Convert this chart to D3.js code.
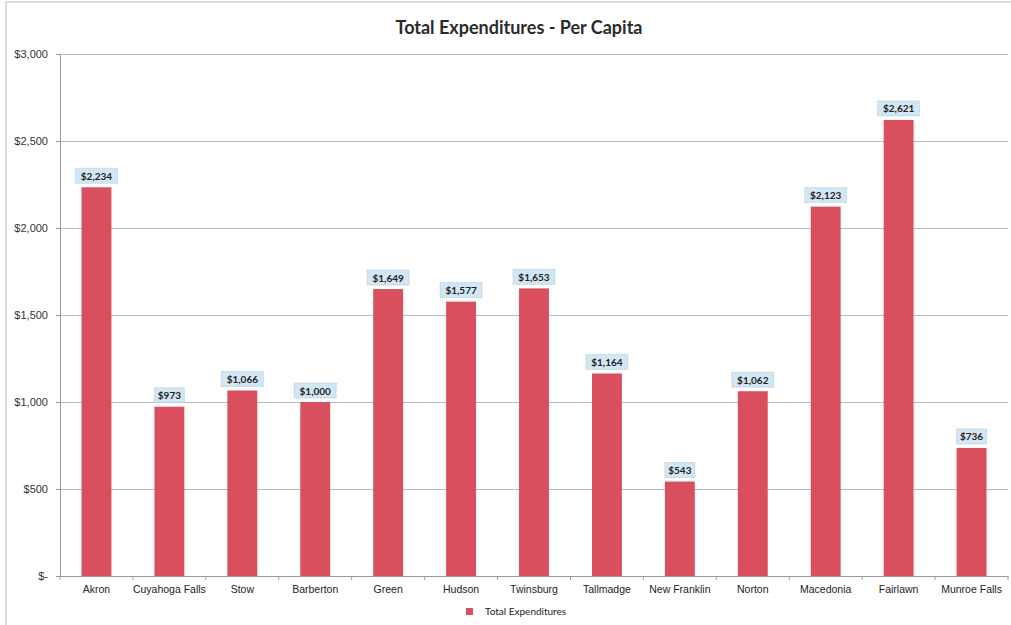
<!DOCTYPE html>
<html><head><meta charset="utf-8">
<script src="https://cdn.jsdelivr.net/npm/d3@7"></script>
<style>body{margin:0;background:#fff;} svg{display:block;font-family:Lato,"Open Sans",sans-serif;}</style>
</head><body>
<svg id="c" width="1011" height="625"></svg>
<script>
const categories = ["Akron","Cuyahoga Falls","Stow","Barberton","Green","Hudson","Twinsburg","Tallmadge","New Franklin","Norton","Macedonia","Fairlawn","Munroe Falls"];
const values = [2234,973,1066,1000,1649,1577,1653,1164,543,1062,2123,2621,736];
const yTicks = [0,500,1000,1500,2000,2500,3000];
const seriesName = "Total Expenditures";
const title = "Total Expenditures - Per Capita";

const svg = d3.select("#c");
const m = {l:60, r:1008, t:54, b:576};
const x = d3.scaleBand().domain(categories).range([m.l, m.r]).paddingInner(0.59).paddingOuter(0.295);
const y = d3.scaleLinear().domain([0,3000]).range([m.b, m.t]);
const fmt = v => v === 0 ? "$-" : "$" + d3.format(",")(v);

// outer frame
svg.append("rect").attr("x",6).attr("y",2).attr("width",1010).attr("height",640)
  .attr("fill","none").attr("stroke","#b8b8b8").attr("stroke-width",1);

// title
svg.append("text").attr("x",519).attr("y",34).attr("text-anchor","middle")
  .attr("font-size",18).attr("font-weight","bold").attr("fill","#2b2b2b").text(title);

// gridlines
svg.append("g").selectAll("line").data(yTicks.filter(d=>d>0)).join("line")
  .attr("x1",m.l).attr("x2",m.r).attr("y1",d=>y(d)+0.5).attr("y2",d=>y(d)+0.5)
  .attr("stroke","#a8a8a8").attr("stroke-width",0.8);

// y axis
const ya = svg.append("g").attr("transform",`translate(${m.l},0)`)
  .call(d3.axisLeft(y).tickValues(yTicks).tickFormat(fmt).tickSize(4).tickPadding(8));
ya.select(".domain").attr("stroke","#9a9a9a");
ya.selectAll(".tick line").attr("stroke","#9a9a9a");
ya.selectAll("text").attr("font-size",11).attr("fill","#333");

// x axis
const xa = svg.append("g").attr("transform",`translate(0,${m.b})`)
  .call(d3.axisBottom(x).tickSize(0).tickPadding(10));
xa.select(".domain").attr("stroke","#9a9a9a");
xa.selectAll("text").attr("font-size",10.5).attr("fill","#222");
// category boundary ticks
svg.append("g").selectAll("line").data(d3.range(categories.length+1)).join("line")
  .attr("x1",i=>m.l + i*x.step()).attr("x2",i=>m.l + i*x.step())
  .attr("y1",m.b).attr("y2",m.b+4).attr("stroke","#9a9a9a");

// bars
svg.append("g").selectAll("rect").data(values).join("rect")
  .attr("x",(d,i)=>x(categories[i])).attr("width",x.bandwidth())
  .attr("y",d=>y(d)).attr("height",d=>m.b - y(d))
  .attr("fill","#d94f5e");

// data labels
const lg = svg.append("g").selectAll("g").data(values).join("g")
  .attr("transform",(d,i)=>`translate(${x(categories[i])+x.bandwidth()/2},${y(d)-11})`);
lg.append("rect").attr("x",d=>-(fmt(d).length*3.0+3)).attr("y",-8)
  .attr("width",d=>2*(fmt(d).length*3.0+3)).attr("height",15)
  .attr("fill","#d3e6f4").attr("stroke","#9cbfd8").attr("stroke-dasharray","1,1").attr("stroke-width",0.8);
lg.append("text").attr("text-anchor","middle").attr("y",3.5)
  .attr("font-size",10).attr("font-weight","bold").attr("fill","#222").text(d=>fmt(d));

// legend
svg.append("rect").attr("x",466).attr("y",608).attr("width",7).attr("height",7).attr("fill","#d94f5e");
svg.append("text").attr("x",485).attr("y",615).attr("font-size",10).attr("fill","#222").text(seriesName);
</script>
</body></html>
